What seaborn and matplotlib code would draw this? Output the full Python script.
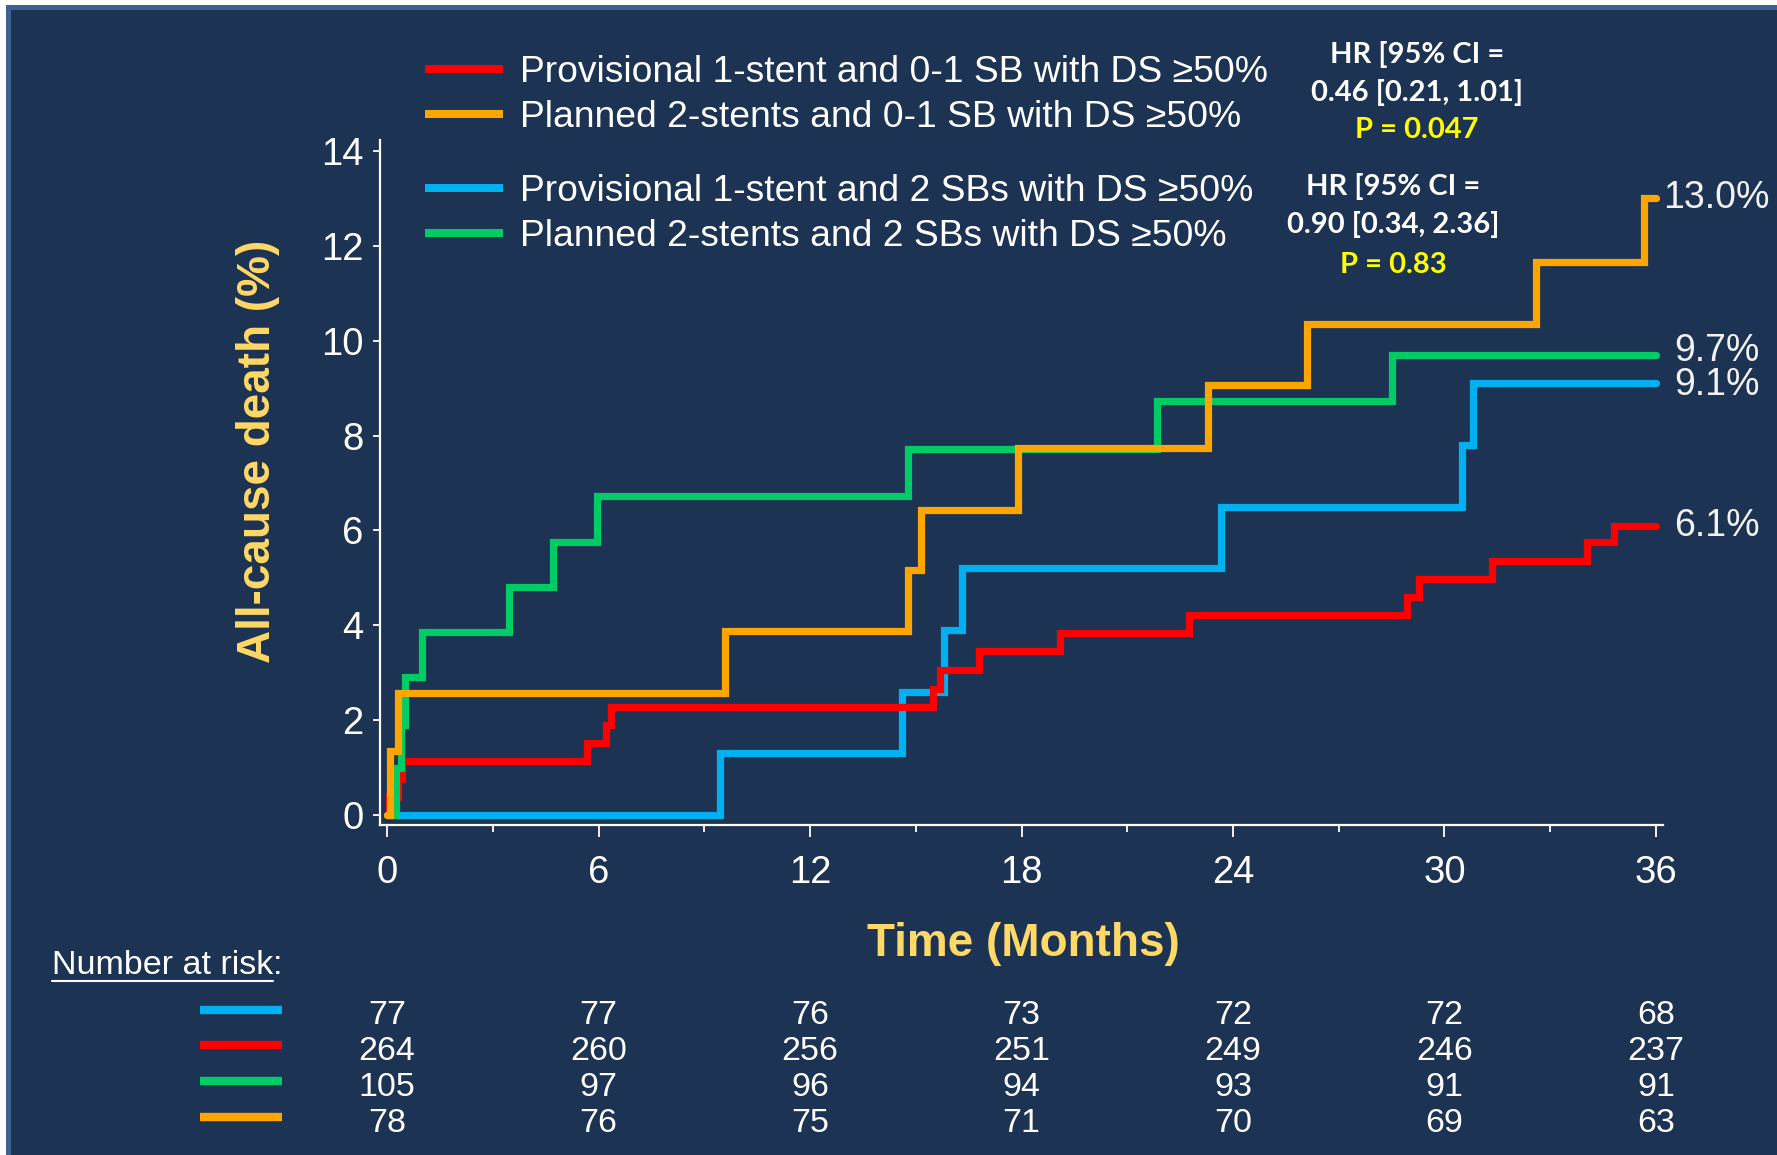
import numpy as np
import pandas as pd
import matplotlib
matplotlib.use("Agg")
import matplotlib.pyplot as plt
from matplotlib.lines import Line2D
from matplotlib.patches import Rectangle
from matplotlib.transforms import blended_transform_factory
import seaborn as sns

# ---- Kaplan-Meier style cumulative incidence (%) by group ----
groups = ["Provisional 1-stent and 2 SBs with DS \u226550%",
          "Provisional 1-stent and 0-1 SB with DS \u226550%",
          "Planned 2-stents and 2 SBs with DS \u226550%",
          "Planned 2-stents and 0-1 SB with DS \u226550%"]
colors = ["#00B0F0", "#FF0000", "#00CC66", "#FFA500"]

blue_t = [0, 9.45, 14.62, 15.8, 16.32, 23.65, 30.5, 30.82, 36]
blue_v = [0, 1.3, 2.6, 3.9, 5.2, 6.5, 7.8, 9.1, 9.1]

red_t = [0, 0.05, 0.3, 0.42, 5.66, 6.2, 6.35, 15.5, 15.68, 16.8, 19.1,
         22.75, 28.95, 29.27, 31.35, 34.04, 34.8, 36]
red_v = [0, 0.38, 0.76, 1.14, 1.52, 1.90, 2.28, 2.65, 3.05, 3.45, 3.83,
         4.21, 4.59, 4.97, 5.36, 5.75, 6.1, 6.1]

green_t = [0, 0.24, 0.4, 0.52, 1.0, 3.47, 4.7, 5.95, 14.77, 21.85, 28.5, 36]
green_v = [0, 1.0, 1.9, 2.9, 3.85, 4.8, 5.75, 6.72, 7.72, 8.72, 9.7, 9.7]

orange_t = [0, 0.08, 0.31, 9.6, 14.77, 15.15, 17.9, 23.3, 26.1, 32.6, 35.65, 36]
orange_v = [0, 1.35, 2.57, 3.87, 5.17, 6.43, 7.74, 9.07, 10.36, 11.65, 13.0, 13.0]

end_labels = ["9.1%", "6.1%", "9.7%", "13.0%"]

# number at risk table (rows: blue, red, green, orange)
risk_times = [0, 6, 12, 18, 24, 30, 36]
risk_blue = [77, 77, 76, 73, 72, 72, 68]
risk_red = [264, 260, 256, 251, 249, 246, 237]
risk_green = [105, 97, 96, 94, 93, 91, 91]
risk_orange = [78, 76, 75, 71, 70, 69, 63]

hr_block1 = ["HR [95% CI =", "0.46 [0.21, 1.01]", "P = 0.047"]
hr_block2 = ["HR [95% CI =", "0.90 [0.34, 2.36]", "P = 0.83"]

# ---- styling ----
NAVY = "#1D3354"
GOLD = "#FFD966"
sns.set_theme(style="ticks")
plt.rcParams["font.family"] = ["Liberation Sans", "DejaVu Sans"]

frames = []
for g, t, v in zip(groups, [blue_t, red_t, green_t, orange_t],
                   [blue_v, red_v, green_v, orange_v]):
    frames.append(pd.DataFrame({"month": t, "death": v, "group": g}))
df = pd.concat(frames, ignore_index=True)

W, H = 1777, 1155
fig = plt.figure(figsize=(W / 100, H / 100), dpi=100, facecolor=NAVY)
ax = fig.add_axes([380 / W, 1 - 825 / H, (1663 - 380) / W, (825 - 140) / H])
ax.set_facecolor(NAVY)

sns.lineplot(data=df, x="month", y="death", hue="group", hue_order=groups,
             palette=colors, estimator=None, sort=False,
             drawstyle="steps-post", linewidth=5.2, legend=False, ax=ax)
for ln in ax.get_lines():
    ln.set_solid_capstyle("round")
    ln.set_solid_joinstyle("miter")

ax.set_xlim(-0.2, 36.2)
ax.set_ylim(-0.21, 14.23)
ax.set_xticks(np.arange(0, 37, 6))
ax.set_xticks(np.arange(3, 37, 6), minor=True)
ax.set_yticks(np.arange(0, 15, 2))
ax.tick_params(axis="x", which="major", length=8.5, width=1.3, color="white",
               labelcolor="white", labelsize=27.5, pad=13)
ax.tick_params(axis="x", which="minor", length=5, width=1.3, color="white")
ax.tick_params(axis="y", length=5, width=1.3, color="white",
               labelcolor="white", labelsize=27.5, pad=7)
for s in ["top", "right"]:
    ax.spines[s].set_visible(False)
for s in ["left", "bottom"]:
    ax.spines[s].set_color("white")
    ax.spines[s].set_linewidth(1.6)
ax.set_xlabel("")
ax.set_ylabel("")

fig.text(1023 / W, 1 - 944 / H, "Time (Months)", color=GOLD, fontsize=33,
         fontweight="bold", ha="center", va="center")
fig.text(258 / W, 1 - 451 / H, "All-cause death (%)", color=GOLD, fontsize=33,
         fontweight="bold", ha="center", va="center", rotation=90)

# end-of-curve percentages
end_vals = [blue_v[-1], red_v[-1], green_v[-1], orange_v[-1]]
end_dx = [13, 13, 13, 5]
end_dy = [-1.5, 0, 3, 0]
for lab, val, dx, dy in zip(end_labels, end_vals, end_dx, end_dy):
    ax.annotate(lab, xy=(36, val), xytext=(dx, dy), textcoords="offset points",
                color="#F2F2F2", fontsize=27, ha="left", va="center",
                annotation_clip=False)

# legends
lines_by_group = dict(zip(groups, colors))
def handle(g):
    return Line2D([0], [0], color=lines_by_group[g], linewidth=5.8,
                  solid_capstyle="butt")

leg_kw = dict(frameon=False, fontsize=26.8, labelcolor="white", loc="upper left",
              borderpad=0, borderaxespad=0, handlelength=2.1,
              handletextpad=0.45, labelspacing=0.28,
              bbox_transform=fig.transFigure)
order1 = [groups[1], groups[3]]
order2 = [groups[0], groups[2]]
leg1 = fig.legend([handle(g) for g in order1], order1,
                  bbox_to_anchor=(425 / W, 1 - 55 / H), **leg_kw)
leg2 = fig.legend([handle(g) for g in order2], order2,
                  bbox_to_anchor=(425 / W, 1 - 174 / H), **leg_kw)

# hazard ratio annotations
hr_font = ["Lato", "DejaVu Sans"]
for block, cx, ys in [(hr_block1, 1417, [54, 93, 130]),
                      (hr_block2, 1393, [187, 225, 265])]:
    for i, (txt, yy) in enumerate(zip(block, ys)):
        fig.text(cx / W, 1 - yy / H, txt, family=hr_font, fontweight="bold",
                 fontsize=21, color="#FFFF00" if i == 2 else "white",
                 ha="center", va="center")

# number at risk
trans = blended_transform_factory(ax.transData, fig.transFigure)
t_nar = fig.text(52 / W, 1 - 965 / H, "Number at risk", color="white",
                 fontsize=24.5, ha="left", va="center")
fig.canvas.draw()
bb = t_nar.get_window_extent().transformed(fig.transFigure.inverted())
fig.text(bb.x1, 1 - 965 / H, ":", color="white", fontsize=24.5, ha="left",
         va="center")
fig.add_artist(Line2D([bb.x0, bb.x1], [1 - 981 / H] * 2, color="white",
                      linewidth=1.5, transform=fig.transFigure))

rows = [risk_blue, risk_red, risk_green, risk_orange]
bar_y = [1010, 1045, 1081, 1117]
num_y = [1016, 1051, 1087, 1124]
for vals, col, by, ny in zip(rows, colors, bar_y, num_y):
    fig.add_artist(Line2D([200 / W, 282 / W], [1 - by / H] * 2, color=col,
                          linewidth=6, solid_capstyle="butt",
                          transform=fig.transFigure))
    for tm, n in zip(risk_times, vals):
        ax.text(tm, 1 - ny / H, str(n), transform=trans, color="white",
                fontsize=24.5, ha="center", va="center")

# slide frame
fig.add_artist(Rectangle((0, 1 - 5 / H), 1, 5 / H, transform=fig.transFigure,
                         facecolor="white", edgecolor="none"))
fig.add_artist(Rectangle((0, 1 - 10 / H), 1, 5 / H, transform=fig.transFigure,
                         facecolor="#3D6090", edgecolor="none"))
fig.add_artist(Rectangle((0, 0), 6 / W, 1, transform=fig.transFigure,
                         facecolor="white", edgecolor="none"))
fig.add_artist(Rectangle((6 / W, 0), 5 / W, 1 - 5 / H, transform=fig.transFigure,
                         facecolor="#3D6090", edgecolor="none"))

fig.savefig("out.png", dpi=100, facecolor=NAVY)
